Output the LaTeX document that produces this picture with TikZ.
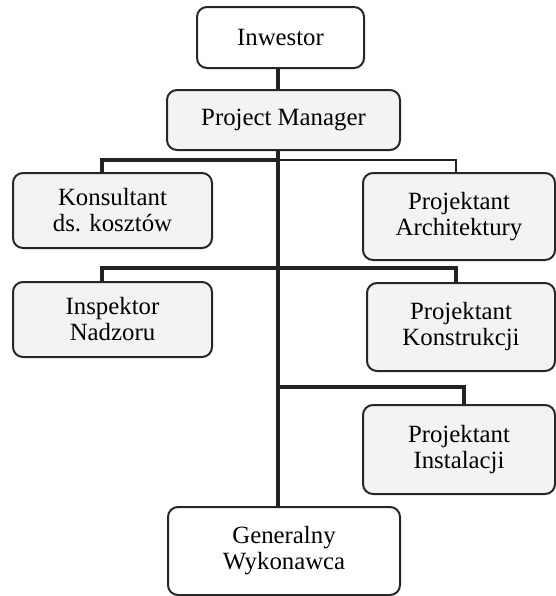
\documentclass[tikz,border=0pt]{standalone}
\usepackage{fontspec}
\setmainfont{Liberation Serif}
\begin{document}
\begin{tikzpicture}[x=0.75pt,y=-0.75pt,
  unit/.style args={#1/#2}{draw=boxline, line width=1.5pt, rounded corners=7.5pt,
    inner sep=0pt, align=center, minimum width=#1*0.75pt, minimum height=#2*0.75pt,
    font=\fontsize{18.6}{19.5}\selectfont},
  plain/.style={unit=#1, fill=white},
  shaded/.style={unit=#1, fill=boxfill},
  link/.style={draw=linecol, line width=2.5pt},
  thinlink/.style={draw=linecol, line width=1.6pt}]
\definecolor{boxline}{HTML}{262626}
\definecolor{boxfill}{HTML}{F2F3F2}
\definecolor{linecol}{HTML}{222222}
\useasboundingbox (0,0) rectangle (556,596);

% units of the organisation
\node[plain=167/61]  (inw)    at (280.5,37.5) {Inwestor};
\node[shaded=233/60] (pm)     at (283.5,120)  {Project Manager};
\node[shaded=199/75] (kons)   at (112.5,210.5) {Konsultant\\ds. kosztów};
\node[shaded=192/87] (arch)   at (459,216.5)  {Projektant\\Architektury};
\node[shaded=199/75] (insp)   at (112.5,319.5) {Inspektor\\Nadzoru};
\node[shaded=188/88] (konstr) at (461,327)    {Projektant\\Konstrukcji};
\node[shaded=192/89] (inst)   at (459,449.5)  {Projektant\\Instalacji};
\node[plain=232/88]  (gw)     at (284,551)    {Generalny\\Wykonawca};

% junctions of the tree
\coordinate (spine) at (278,150);
\coordinate (b1l) at (102,160);
\coordinate (b1m) at (278,160);
\coordinate (b1r) at (456,160);
\coordinate (b2l) at (102,268);
\coordinate (b2r) at (456,268);
\coordinate (b3m) at (278,387);
\coordinate (b3r) at (464,387);

% connectors
\draw[link] (spine |- inw.south) -- (spine |- pm.north);
\draw[link] (spine |- pm.south) -- (spine |- gw.north);
\draw[link] (b1l |- kons.north) -- (b1l) -- (b1m);
\draw[thinlink] (b1m) -- (b1r) -- (b1r |- arch.north);
\draw[link] (b2l |- insp.north) -- (b2l) -- (b2r) -- (b2r |- konstr.north);
\draw[link] (b3m) -- (b3r) -- (b3r |- inst.north);
\end{tikzpicture}
\end{document}
